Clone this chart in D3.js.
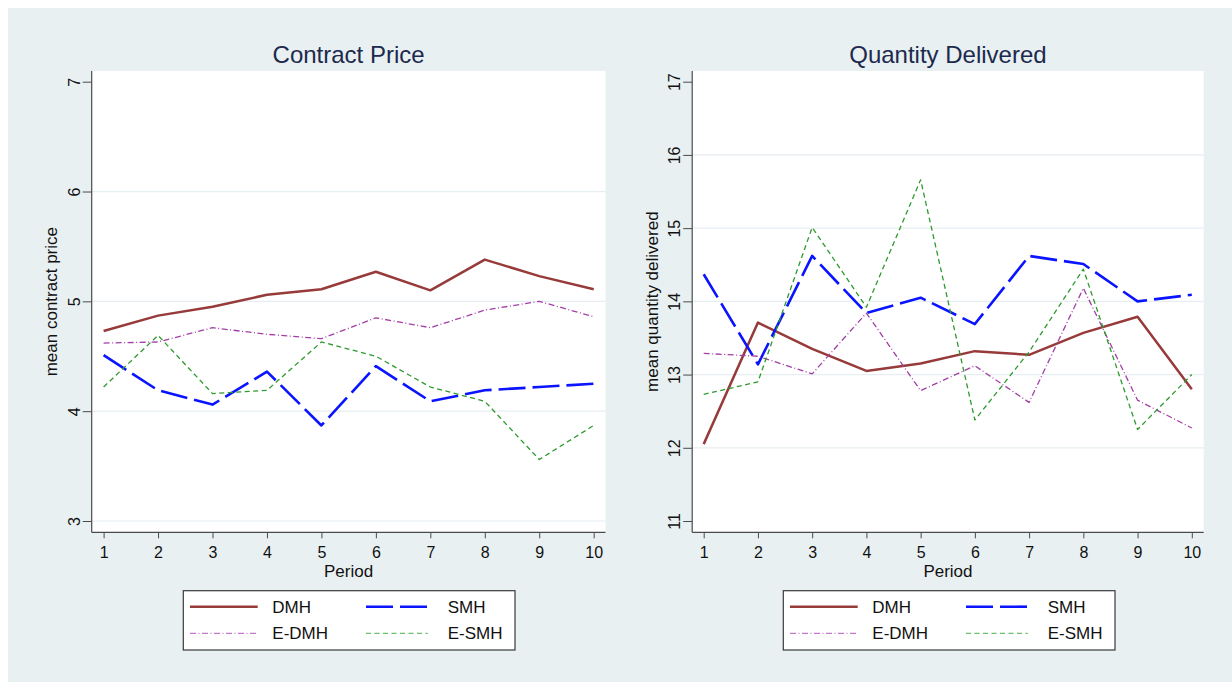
<!DOCTYPE html>
<html>
<head>
<meta charset="utf-8">
<script src="https://cdn.jsdelivr.net/npm/d3@7"></script>
<style>
  html, body { margin: 0; padding: 0; background: #ffffff; }
  svg { display: block; font-family: "Liberation Sans", Arial, Helvetica, sans-serif; }
</style>
</head>
<body>
<svg id="chart" width="1232" height="682"></svg>
<script>
// Periods on the x axis
const periods = [1, 2, 3, 4, 5, 6, 7, 8, 9, 10];

// Mean contract price by treatment
const priceDMH  = [4.73, 4.87, 4.95, 5.06, 5.11, 5.27, 5.10, 5.38, 5.23, 5.11];
const priceSMH  = [4.51, 4.19, 4.06, 4.36, 3.87, 4.41, 4.09, 4.19, 4.22, 4.25];
const priceEDMH = [4.62, 4.63, 4.76, 4.70, 4.66, 4.85, 4.76, 4.92, 5.00, 4.86];
const priceESMH = [4.22, 4.69, 4.16, 4.19, 4.63, 4.50, 4.22, 4.09, 3.56, 3.87];

// Mean quantity delivered by treatment
const qtyDMH  = [12.05, 13.71, 13.35, 13.05, 13.15, 13.32, 13.27, 13.57, 13.79, 12.80];
const qtySMH  = [14.37, 13.14, 14.62, 13.84, 14.05, 13.69, 14.62, 14.51, 14.00, 14.09];
const qtyEDMH = [13.29, 13.25, 13.01, 13.84, 12.78, 13.12, 12.62, 14.18, 12.65, 12.27];
const qtyESMH = [12.73, 12.90, 15.01, 13.92, 15.66, 12.38, 13.31, 14.44, 12.25, 13.00];

// Tick labels
const priceTicks = [3, 4, 5, 6, 7];
const qtyTicks = [11, 12, 13, 14, 15, 16, 17];
const seriesNames = ["DMH", "SMH", "E-DMH", "E-SMH"];

// Line styles per series
const styles = {
  "DMH":   { color: "#973a3a", width: 2.5, dash: null },
  "SMH":   { color: "#0a14ff", width: 2.6, dash: "27,7" },
  "E-DMH": { color: "#a23fa6", width: 1.3, dash: "6,2.5,1,2.5" },
  "E-SMH": { color: "#2e9a2e", width: 1.3, dash: "5,3.5" }
};
const legendStyles = {
  "E-DMH": { color: "#c479c8" },
  "E-SMH": { color: "#6cbf6c" }
};

const svg = d3.select("#chart");

// Outer graph background
svg.append("rect")
  .attr("x", 8).attr("y", 8)
  .attr("width", 1232 - 8).attr("height", 682 - 8)
  .attr("fill", "#e9f0f2");

function drawPanel(cfg) {
  const g = svg.append("g");
  const { left, right, top, bottom } = cfg.plot;

  const x = d3.scaleLinear().domain([1, 10]).range(cfg.xRange);
  const y = d3.scaleLinear().domain(cfg.yDomain).range([521, 81.7]);

  // Plot region
  g.append("rect")
    .attr("x", left).attr("y", top)
    .attr("width", right - left).attr("height", bottom - top)
    .attr("fill", "#ffffff");

  // Horizontal gridlines
  g.selectAll(".grid")
    .data(cfg.gridTicks)
    .join("line")
    .attr("x1", left).attr("x2", right)
    .attr("y1", d => y(d)).attr("y2", d => y(d))
    .attr("stroke", "#e6eef1")
    .attr("stroke-width", 1.2);

  // Title
  g.append("text")
    .attr("x", (left + right) / 2).attr("y", 63)
    .attr("text-anchor", "middle")
    .attr("font-size", 24)
    .attr("fill", "#1c2a4d")
    .text(cfg.title);

  // Y axis
  const yAxis = d3.axisLeft(y).tickValues(cfg.yTicks).tickSize(9).tickPadding(3)
    .tickFormat(d3.format("d"));
  const yg = g.append("g").attr("transform", `translate(${left},0)`).call(yAxis);
  yg.select(".domain").attr("d", `M0,${top}V${bottom}`).attr("stroke", "#4a4a4a").attr("stroke-width", 1.2);
  yg.selectAll(".tick line").attr("stroke", "#4a4a4a").attr("stroke-width", 1);
  yg.selectAll(".tick text")
    .attr("font-size", 16)
    .attr("fill", "#111")
    .attr("font-family", "Liberation Sans, Arial, sans-serif")
    .attr("text-anchor", "middle")
    .attr("dy", 0)
    .attr("x", 0)
    .attr("transform", "translate(-12,0) rotate(-90)");

  // Y axis title
  g.append("text")
    .attr("transform", `translate(${left - 34.5},${(top + bottom) / 2}) rotate(-90)`)
    .attr("text-anchor", "middle")
    .attr("font-size", 17)
    .attr("fill", "#111")
    .text(cfg.yTitle);

  // X axis
  const xAxis = d3.axisBottom(x).tickValues(periods).tickSize(6).tickPadding(8)
    .tickFormat(d3.format("d"));
  const xg = g.append("g").attr("transform", `translate(0,${bottom})`).call(xAxis);
  xg.select(".domain").attr("d", `M${left},0H${right}`).attr("stroke", "#4a4a4a").attr("stroke-width", 1.2);
  xg.selectAll(".tick line").attr("stroke", "#4a4a4a").attr("stroke-width", 1);
  xg.selectAll(".tick text")
    .attr("font-size", 16)
    .attr("fill", "#111")
    .attr("font-family", "Liberation Sans, Arial, sans-serif");

  // X axis title
  g.append("text")
    .attr("x", (left + right) / 2).attr("y", 577)
    .attr("text-anchor", "middle")
    .attr("font-size", 17)
    .attr("fill", "#111")
    .text("Period");

  // Series lines
  const line = d3.line().x((d, i) => x(periods[i])).y(d => y(d));
  seriesNames.forEach((name, k) => {
    const s = styles[name];
    g.append("path")
      .datum(cfg.series[k])
      .attr("d", line)
      .attr("fill", "none")
      .attr("stroke", s.color)
      .attr("stroke-width", s.width)
      .attr("stroke-linejoin", "round")
      .attr("stroke-dasharray", s.dash);
  });

  // Legend
  const lx = cfg.legendX, ly = 590.7;
  const lg = g.append("g").attr("transform", `translate(${lx},${ly})`);
  lg.append("rect")
    .attr("x", 0).attr("y", 0)
    .attr("width", 331.7).attr("height", 59.3)
    .attr("fill", "#ffffff")
    .attr("stroke", "#3a3a3a")
    .attr("stroke-width", 1.2);
  const cols = [{ x1: 6.7, x2: 74.4, tx: 89 }, { x1: 182.7, x2: 244.4, tx: 264.4 }];
  const rows = [16, 42.6];
  seriesNames.forEach((name, k) => {
    const c = cols[k % 2], r = rows[Math.floor(k / 2)];
    const s = styles[name];
    const col = legendStyles[name] ? legendStyles[name].color : s.color;
    lg.append("line")
      .attr("x1", c.x1).attr("x2", c.x2)
      .attr("y1", r).attr("y2", r)
      .attr("stroke", col)
      .attr("stroke-width", s.width)
      .attr("stroke-dasharray", s.dash);
    lg.append("text")
      .attr("x", c.tx).attr("y", r + 6.2)
      .attr("font-size", 17)
      .attr("fill", "#111")
      .text(name);
  });
}

drawPanel({
  title: "Contract Price",
  yTitle: "mean contract price",
  plot: { left: 91.7, right: 605.5, top: 71, bottom: 532.3 },
  xRange: [103.6, 593.7],
  yDomain: [3, 7],
  yTicks: priceTicks,
  gridTicks: [3, 4, 5, 6],
  series: [priceDMH, priceSMH, priceEDMH, priceESMH],
  legendX: 183.3
});

drawPanel({
  title: "Quantity Delivered",
  yTitle: "mean quantity delivered",
  plot: { left: 692.2, right: 1203.7, top: 71, bottom: 532.3 },
  xRange: [703.7, 1191.8],
  yDomain: [11, 17],
  yTicks: qtyTicks,
  gridTicks: [12, 13, 14, 15, 16],
  series: [qtyDMH, qtySMH, qtyEDMH, qtyESMH],
  legendX: 783.3
});
</script>
</body>
</html>
